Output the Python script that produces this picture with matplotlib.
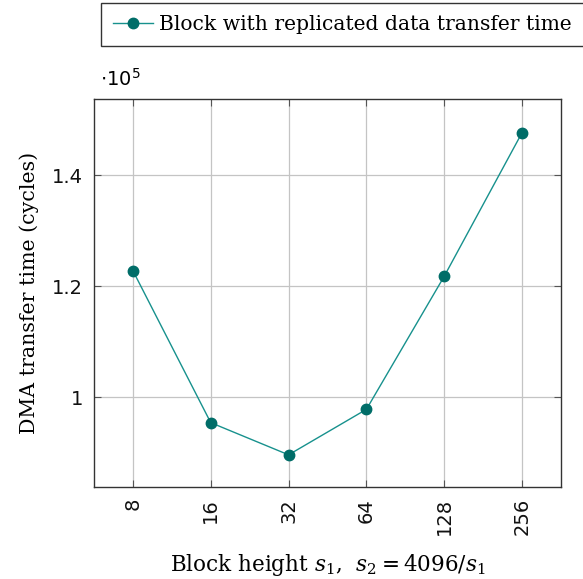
import matplotlib
matplotlib.use("Agg")
import matplotlib.pyplot as plt
from matplotlib.ticker import FixedLocator, NullLocator, FuncFormatter

block_heights = [8, 16, 32, 64, 128, 256]
transfer_time = [1.228, 0.954, 0.896, 0.978, 1.218, 1.477]  # x 10^5 cycles
y_ticks = [1.0, 1.2, 1.4]
y_tick_labels = ['1', '1.2', '1.4']

marker_col = '#006d68'
line_col = '#17918d'

plt.rcParams['mathtext.fontset'] = 'dejavuserif'

fig = plt.figure(figsize=(5.83, 5.79), dpi=100)
ax = fig.add_axes([0.1612, 0.1589, 0.8011, 0.6701])

ax.plot(block_heights, transfer_time, color=line_col, lw=1.0, marker='o',
        markersize=7.5, markerfacecolor=marker_col, markeredgecolor=marker_col,
        label='Block with replicated data transfer time')

ax.set_xscale('log', base=2)
ax.set_xlim(2 ** 2.5, 2 ** 8.5)
ax.set_ylim(0.838, 1.5375)
ax.xaxis.set_major_locator(FixedLocator(block_heights))
ax.xaxis.set_minor_locator(NullLocator())
ax.xaxis.set_major_formatter(FuncFormatter(lambda v, p: '%d' % round(v)))
ax.set_yticks(y_ticks)
ax.set_yticklabels(y_tick_labels)

ax.grid(True, color='#c4c4c4', lw=0.9)
ax.set_axisbelow(True)
ax.tick_params(direction='in', length=5, width=0.8, color='#555555',
               top=True, right=True, labelsize=14, labelcolor='#111111')
ax.tick_params(axis='x', labelrotation=90, pad=8)
ax.tick_params(axis='y', pad=8)
for s in ax.spines.values():
    s.set_color('#333333')
    s.set_linewidth(1.0)

ax.set_xlabel(r'Block height $s_1$,  $s_2 = 4096/s_1$', family='DejaVu Serif',
              fontsize=15.5, labelpad=12)
ax.set_ylabel('DMA transfer time (cycles)', family='DejaVu Serif', fontsize=14.8,
              labelpad=9)
fig.text(0.172, 0.845, r'$\cdot10^5$', fontsize=14, family='DejaVu Sans',
         math_fontfamily='dejavusans', ha='left', va='bottom')

leg = fig.legend(loc='upper right', bbox_to_anchor=(1.002, 0.995),
                 prop={'family': 'DejaVu Serif', 'size': 14.6},
                 fancybox=False, edgecolor='#333333', framealpha=1,
                 handlelength=2.0, borderpad=0.6, handletextpad=0.3,
                 borderaxespad=0)
leg.get_frame().set_linewidth(1.0)

fig.savefig('out.png', dpi=100)
